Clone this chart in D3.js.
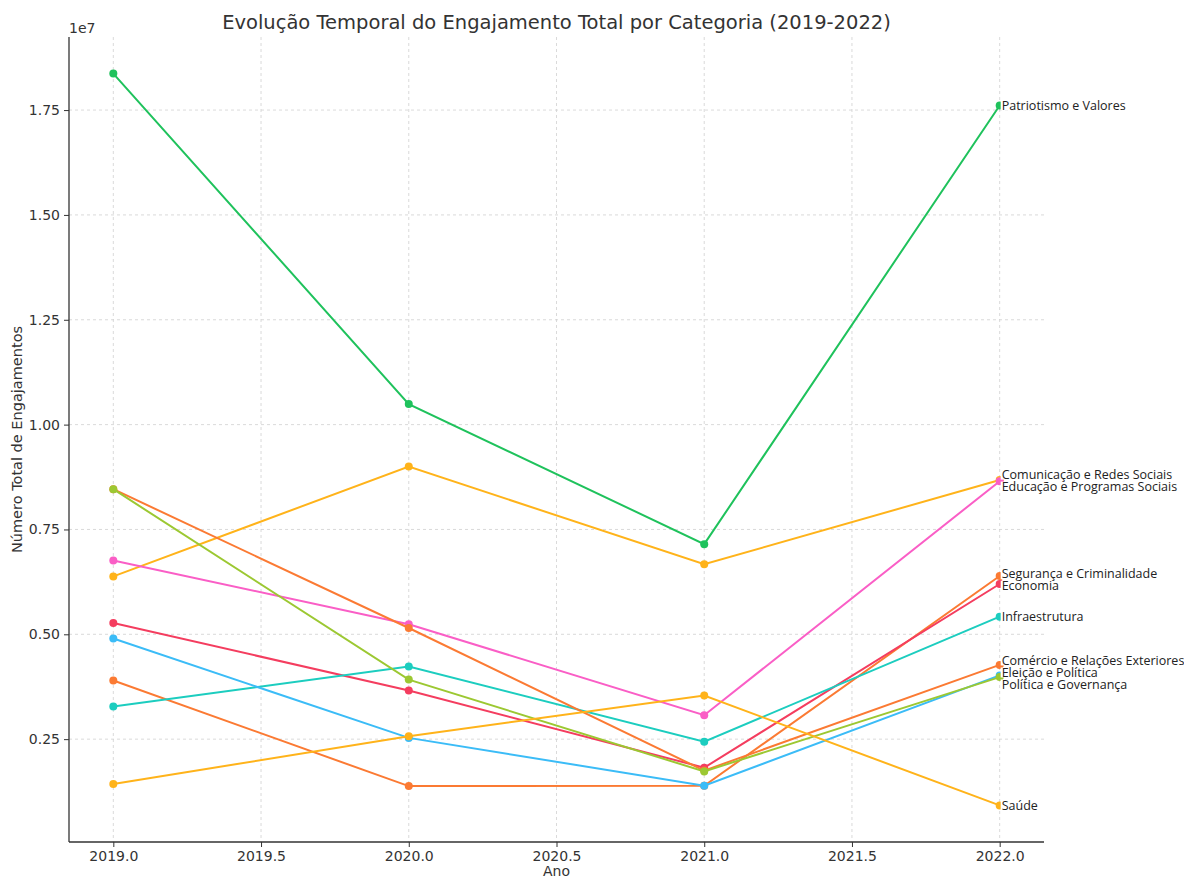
<!DOCTYPE html>
<html><head><meta charset="utf-8">
<script src="https://cdn.jsdelivr.net/npm/d3@7"></script>
<style>
html,body{margin:0;padding:0;background:#fff;}
svg{display:block;}
</style>
</head><body>
<svg id="chart" width="1184" height="878"></svg>
<script>
const years = [2019, 2020, 2021, 2022];
const categories = [
  "Patriotismo e Valores",
  "Comunicação e Redes Sociais",
  "Educação e Programas Sociais",
  "Segurança e Criminalidade",
  "Economia",
  "Infraestrutura",
  "Comércio e Relações Exteriores",
  "Eleição e Política",
  "Política e Governança",
  "Saúde"
];
const patriotismo   = [18370000, 10490000, 7150000, 17610000];
const comunicacao   = [6380000, 9000000, 6670000, 8680000];
const educacao      = [6760000, 5240000, 3070000, 8650000];
const seguranca     = [3900000, 1380000, 1390000, 6390000];
const economia      = [5270000, 3660000, 1820000, 6200000];
const infra         = [3280000, 4230000, 2440000, 5420000];
const comercio      = [8460000, 5150000, 1750000, 4270000];
const eleicao       = [4900000, 2530000, 1390000, 4020000];
const politica      = [8460000, 3920000, 1730000, 3980000];
const saude         = [1430000, 2570000, 3540000, 920000];
const seriesValues = [patriotismo, comunicacao, educacao, seguranca, economia, infra, comercio, eleicao, politica, saude];
const colors = ["#1fc25c", "#ffb31a", "#fa5ec6", "#fb7a33", "#f43d5f", "#1ccdbf", "#fb7a33", "#3bbcf7", "#9cc832", "#ffb31a"];
const xTicks = [2019, 2019.5, 2020, 2020.5, 2021, 2021.5, 2022];
const yTicks = [2500000, 5000000, 7500000, 10000000, 12500000, 15000000, 17500000];
const title = "Evolução Temporal do Engajamento Total por Categoria (2019-2022)";
const xLabel = "Ano";
const yLabel = "Número Total de Engajamentos";

const svg = d3.select("#chart");
const m = {left: 69, right: 1044, top: 37, bottom: 842};

const allVals = seriesValues.flat();
const vmin = d3.min(allVals), vmax = d3.max(allVals);
const vpad = (vmax - vmin) * 0.05;
const xpad = (d3.max(years) - d3.min(years)) * 0.05;

const x = d3.scaleLinear().domain([d3.min(years) - xpad, d3.max(years) + xpad]).range([m.left, m.right]);
const y = d3.scaleLinear().domain([vmin - vpad, vmax + vpad]).range([m.bottom, m.top]);

// grid
const grid = svg.append("g");
grid.selectAll("line.vx").data(xTicks).join("line")
  .attr("x1", d => x(d)).attr("x2", d => x(d))
  .attr("y1", m.top).attr("y2", m.bottom)
  .attr("stroke", "#d0d0d0").attr("stroke-width", 0.8).attr("stroke-dasharray", "3,3");
grid.selectAll("line.hy").data(yTicks).join("line")
  .attr("x1", m.left).attr("x2", m.right)
  .attr("y1", d => y(d)).attr("y2", d => y(d))
  .attr("stroke", "#d0d0d0").attr("stroke-width", 0.8).attr("stroke-dasharray", "3,3");

// axes
const xAxis = d3.axisBottom(x).tickValues(xTicks).tickFormat(d3.format(".1f")).tickSize(5).tickPadding(4);
const yAxis = d3.axisLeft(y).tickValues(yTicks).tickFormat(d => (d / 1e7).toFixed(2)).tickSize(5).tickPadding(4);
const gx = svg.append("g").attr("transform", `translate(0,${m.bottom})`).call(xAxis);
const gy = svg.append("g").attr("transform", `translate(${m.left},0)`).call(yAxis);
[gx, gy].forEach(g => {
  g.select(".domain").attr("stroke", "#333").attr("stroke-width", 1.3);
  g.selectAll(".tick line").attr("stroke", "#333").attr("stroke-width", 1);
  g.selectAll(".tick text").attr("font-family", "DejaVu Sans").attr("font-size", 14).attr("fill", "#333");
});
gx.select(".domain").attr("d", `M${m.left},0H${m.right}`);
gy.select(".domain").attr("d", `M0,${m.top}V${m.bottom}`);

svg.append("text").attr("x", m.left).attr("y", 33)
  .attr("font-family", "DejaVu Sans").attr("font-size", 14).attr("fill", "#333").text("1e7");

// lines
const line = d3.line().x((d, i) => x(years[i])).y(d => y(d));
const gLines = svg.append("g");
seriesValues.forEach((vals, k) => {
  gLines.append("path").attr("d", line(vals)).attr("fill", "none")
    .attr("stroke", colors[k]).attr("stroke-width", 2);
  gLines.selectAll(null).data(vals).join("circle")
    .attr("cx", (d, i) => x(years[i])).attr("cy", d => y(d)).attr("r", 4)
    .attr("fill", colors[k]);
});

// end labels with simple cluster spreading
const spacing = 12;
let labels = categories.map((c, k) => ({name: c, y0: y(seriesValues[k][3]), k}));
labels.sort((a, b) => a.y0 - b.y0);
let clusters = labels.map(l => ({items: [l], center: l.y0}));
let changed = true;
while (changed) {
  changed = false;
  for (let i = 0; i < clusters.length - 1; i++) {
    const a = clusters[i], b = clusters[i + 1];
    const aBottom = a.center + (a.items.length - 1) * spacing / 2;
    const bTop = b.center - (b.items.length - 1) * spacing / 2;
    if (bTop - aBottom < spacing) {
      const items = a.items.concat(b.items);
      const center = d3.mean(items, d => d.y0);
      clusters.splice(i, 2, {items, center});
      changed = true;
      break;
    }
  }
}
clusters.forEach(c => {
  c.items.forEach((it, j) => { it.ly = c.center + (j - (c.items.length - 1) / 2) * spacing; });
});
const xEnd = x(years[3]);
const gLab = svg.append("g");
labels.forEach(l => {
  const t = gLab.append("text").attr("x", xEnd + 2).attr("y", l.ly)
    .attr("dominant-baseline", "central")
    .attr("font-family", "Open Sans").attr("font-size", 12.5).attr("fill", "#222").text(l.name);
  const bb = t.node().getBBox();
  gLab.insert("rect", "text").attr("x", xEnd + 1).attr("y", l.ly - 5).attr("width", bb.width + 1).attr("height", 10).attr("fill", "#fff");
});

// title and axis labels
svg.append("text").attr("x", (m.left + m.right) / 2).attr("y", 29).attr("text-anchor", "middle")
  .attr("font-family", "DejaVu Sans").attr("font-size", 19.5).attr("fill", "#333").text(title);
svg.append("text").attr("x", (m.left + m.right) / 2).attr("y", 876).attr("text-anchor", "middle")
  .attr("font-family", "DejaVu Sans").attr("font-size", 14).attr("fill", "#333").text(xLabel);
svg.append("text").attr("transform", `translate(22,${(m.top + m.bottom) / 2}) rotate(-90)`).attr("text-anchor", "middle")
  .attr("font-family", "DejaVu Sans").attr("font-size", 14.5).attr("fill", "#333").text(yLabel);
</script>
</body></html>
